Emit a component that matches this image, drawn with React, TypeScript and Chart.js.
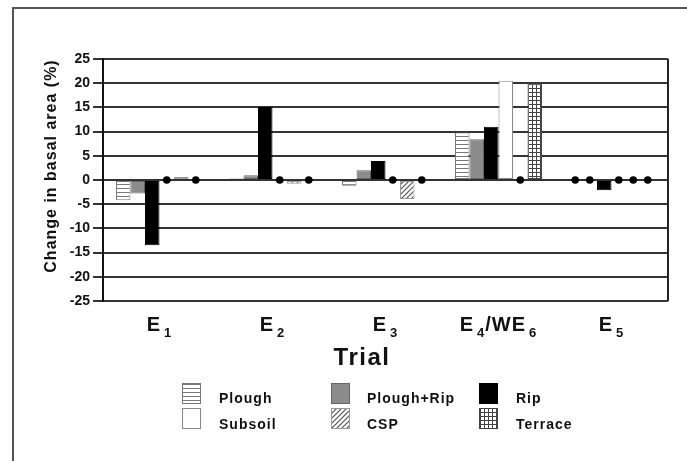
import React, { useEffect, useRef } from "react";
import { Chart, registerables } from "chart.js";

Chart.register(...registerables);

const categories = ["E1", "E2", "E3", "E4/WE6", "E5"];
const seriesNames = ["Plough", "Plough+Rip", "Rip", "Subsoil", "CSP", "Terrace"];
const plough = [-4.2, 0.3, -1.2, 9.8, null];
const ploughRip = [-2.8, 1.0, 2.0, 8.4, null];
const rip = [-13.5, 15.1, 3.9, 11.0, -2.1];
const subsoil = [null, null, null, 20.5, null];
const csp = [0.6, -0.8, -3.9, null, null];
const terrace = [null, null, null, 20.0, null];
const yMin = -25;
const yMax = 25;
const yStep = 5;
const xTitle = "Trial";
const yTitle = "Change in basal area (%)";

type Kind = "hlines" | "gray" | "black" | "white" | "diag" | "grid";
const kinds: Kind[] = ["hlines", "gray", "black", "white", "diag", "grid"];
const borders = ["#777", "#666", "#000", "#888", "#999", "#444"];

function makeFill(kind: Kind): any {
  if (kind === "gray") return "#8c8c8c";
  if (kind === "black") return "#000000";
  if (kind === "white") return "#ffffff";
  const c = document.createElement("canvas");
  const s = kind === "diag" ? 5 : 4;
  c.width = s;
  c.height = s;
  const g = c.getContext("2d")!;
  g.fillStyle = "#ffffff";
  g.fillRect(0, 0, s, s);
  if (kind === "hlines") {
    g.fillStyle = "#777";
    g.fillRect(0, 0, s, 1);
  } else if (kind === "grid") {
    g.fillStyle = "#444";
    g.fillRect(0, 0, s, 1);
    g.fillRect(0, 0, 1, s);
  } else if (kind === "diag") {
    g.strokeStyle = "#555";
    g.lineWidth = 1.2;
    g.beginPath();
    g.moveTo(-1, s + 1);
    g.lineTo(s + 1, -1);
    g.moveTo(-1, 1);
    g.lineTo(1, -1);
    g.moveTo(s - 1, s + 1);
    g.lineTo(s + 1, s - 1);
    g.stroke();
  }
  return g.createPattern(c, "repeat");
}

const FONT = "'Liberation Sans', Arial, sans-serif";

const decorPlugin = {
  id: "decor",
  beforeDraw(chart: any) {
    const ctx = chart.ctx;
    ctx.save();
    ctx.strokeStyle = "#555";
    ctx.lineWidth = 2;
    ctx.beginPath();
    ctx.moveTo(13, 461);
    ctx.lineTo(13, 8);
    ctx.lineTo(687, 8);
    ctx.stroke();
    ctx.restore();
  },
  afterDraw(chart: any) {
    const ctx = chart.ctx;
    const area = chart.chartArea;
    const xs = chart.scales.x;
    const ys = chart.scales.y;
    ctx.save();
    // right border of plot
    ctx.strokeStyle = "#222";
    ctx.lineWidth = 2;
    ctx.beginPath();
    ctx.moveTo(area.right, area.top);
    ctx.lineTo(area.right, area.bottom);
    ctx.stroke();

    // dots for empty values
    const zeroY = ys.getPixelForValue(0);
    ctx.fillStyle = "#000";
    chart.data.datasets.forEach((ds: any, d: number) => {
      const meta = chart.getDatasetMeta(d);
      ds.data.forEach((v: any, i: number) => {
        if (v === null) {
          const el = meta.data[i];
          const x = el ? el.x : NaN;
          if (isFinite(x)) {
            ctx.beginPath();
            ctx.arc(x, zeroY, 3.8, 0, Math.PI * 2);
            ctx.fill();
          }
        }
      });
    });

    // category labels with subscripts
    ctx.fillStyle = "#111";
    ctx.textBaseline = "alphabetic";
    (ctx as any).letterSpacing = "1px";
    categories.forEach((lab, i) => {
      const cx = xs.getPixelForValue(i);
      const parts: { t: string; sub: boolean }[] = [];
      const re = /(\d+)|([^\d]+)/g;
      let m;
      while ((m = re.exec(lab))) {
        parts.push({ t: m[0], sub: !!m[1] });
      }
      let total = 0;
      const widths = parts.map((p) => {
        ctx.font = p.sub ? `bold 13px ${FONT}` : `bold 20px ${FONT}`;
        const w = ctx.measureText(p.t).width + (p.sub ? 3 : 0);
        total += w;
        return w;
      });
      let x = cx - total / 2;
      parts.forEach((p, k) => {
        ctx.font = p.sub ? `bold 13px ${FONT}` : `bold 20px ${FONT}`;
        ctx.textAlign = "left";
        ctx.fillText(p.t, x + (p.sub ? 3 : 0), p.sub ? 337 : 331);
        x += widths[k];
      });
    });

    // x title
    (ctx as any).letterSpacing = "1.5px";
    ctx.font = `bold 24px ${FONT}`;
    ctx.textAlign = "center";
    ctx.fillText(xTitle, 362, 365);

    // y title
    (ctx as any).letterSpacing = "1px";
    ctx.save();
    ctx.translate(56, 166);
    ctx.rotate(-Math.PI / 2);
    ctx.font = `bold 16px ${FONT}`;
    ctx.textAlign = "center";
    ctx.fillText(yTitle, 0, 0);
    ctx.restore();

    // legend
    const boxX = [182, 331, 479];
    const textX = [219, 367, 516];
    const boxY = [383, 408];
    const textY = [403, 429];
    ctx.font = `bold 14px ${FONT}`;
    ctx.textAlign = "left";
    chart.data.datasets.forEach((ds: any, d: number) => {
      const col = d % 3;
      const row = Math.floor(d / 3);
      ctx.fillStyle = ds.backgroundColor;
      ctx.fillRect(boxX[col], boxY[row], 19, 21);
      ctx.strokeStyle = ds.borderColor;
      ctx.lineWidth = 1;
      ctx.strokeRect(boxX[col] + 0.5, boxY[row] + 0.5, 18, 20);
      ctx.fillStyle = "#111";
      ctx.fillText(ds.label, textX[col], textY[row]);
    });
    ctx.restore();
  },
};

export default function App() {
  const ref = useRef<HTMLCanvasElement>(null);
  useEffect(() => {
    const canvas = ref.current!;
    const values = [plough, ploughRip, rip, subsoil, csp, terrace];
    const chart = new Chart(canvas, {
      type: "bar",
      data: {
        labels: categories,
        datasets: seriesNames.map((name, i) => ({
          label: name,
          data: values[i] as any,
          backgroundColor: makeFill(kinds[i]),
          borderColor: borders[i],
          borderWidth: 1,
          borderSkipped: false,
          barPercentage: 1,
          categoryPercentage: 0.77,
        })),
      },
      options: {
        responsive: false,
        animation: false,
        layout: { padding: { left: 0, top: 59, right: 19, bottom: 160 } },
        plugins: {
          legend: { display: false },
          tooltip: { enabled: false },
          title: { display: false },
        },
        scales: {
          x: {
            display: false,
          },
          y: {
            min: yMin,
            max: yMax,
            ticks: {
              stepSize: yStep,
              color: "#111",
              font: { family: FONT, size: 14, weight: "bold" },
              padding: 3,
            },
            grid: {
              color: "#333",
              lineWidth: 2,
              drawTicks: true,
              tickLength: 10,
            },
            border: { display: true, color: "#111", width: 2 },
            afterFit(scale: any) {
              scale.width = 103;
            },
          },
        },
      },
      plugins: [decorPlugin],
    } as any);
    return () => chart.destroy();
  }, []);
  return (
    <div style={{ position: "fixed", left: 0, top: 0, width: 687, height: 461, background: "#fff" }}>
      <canvas ref={ref} width={687} height={461} style={{ width: 687, height: 461, display: "block" }} />
    </div>
  );
}
